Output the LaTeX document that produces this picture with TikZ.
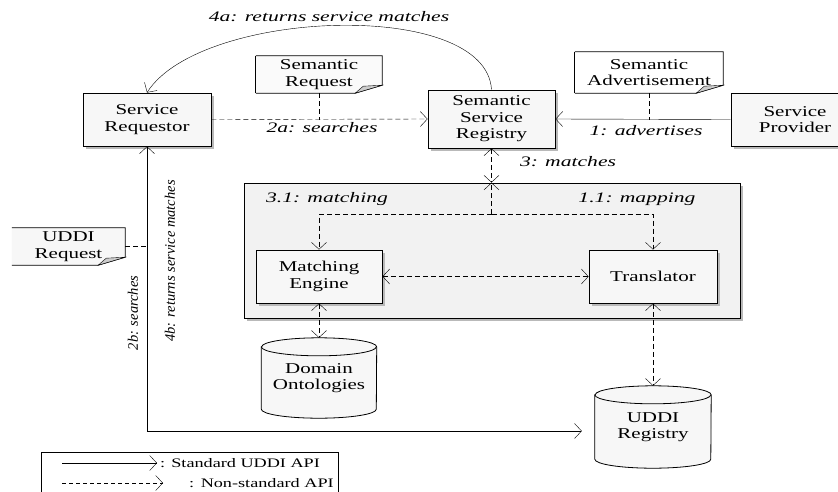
\documentclass[tikz,border=0pt]{standalone}
\usepackage{fontspec}
\setmainfont{Liberation Serif}
\newfontfamily\boxfont[FakeStretch=1.4]{Liberation Serif}
\newfontfamily\labfont[FakeStretch=1.49]{Liberation Serif}
\usetikzlibrary{arrows.meta,shadows,calc,backgrounds}
\pgfdeclarelayer{paper}
\pgfsetlayers{paper,background,main}

% note sheet with a folded bottom-right corner
\newcommand\notefill[2]{\fill[#2] (#1.north west) -- (#1.north east) -- ([yshift=8pt]#1.south east) -- ([xshift=-27pt]#1.south east) -- (#1.south west) -- cycle;}
\newcommand\noteline[1]{\draw[boxline] (#1.south west) -- ([xshift=-27pt]#1.south east) -- ([yshift=8pt]#1.south east) -- (#1.north east) -- (#1.north west);
  \filldraw[fill=gray!40, line width=0.4pt] ([xshift=-27pt]#1.south east) -- ([xshift=-19pt,yshift=7pt]#1.south east) -- ([yshift=8pt]#1.south east) -- cycle;}
\newcommand\noteleft[1]{\draw[boxline] (#1.north west) -- (#1.south west);}
% vertical data store drawn round a named node; #2 = half width
\newcommand\drawcyl[2]{%
  \fill[gray!55, shift={(2.5pt,-2.5pt)}] ($(#1.north west)+(0,9)$) -- ($(#1.south west)+(0,-9)$) arc[start angle=180,end angle=360,x radius=#2pt,y radius=9pt] -- ($(#1.north east)+(0,9)$) arc[start angle=0,end angle=180,x radius=#2pt,y radius=9pt] -- cycle;
  \filldraw[boxline, fill=gray!6] ($(#1.north west)+(0,9)$) -- ($(#1.south west)+(0,-9)$) arc[start angle=180,end angle=360,x radius=#2pt,y radius=9pt] -- ($(#1.north east)+(0,9)$) arc[start angle=0,end angle=180,x radius=#2pt,y radius=9pt] -- cycle;
  \draw[boxline] ($(#1.north west)+(0,9)$) arc[start angle=180,end angle=360,x radius=#2pt,y radius=9pt];}

\begin{document}
\begin{tikzpicture}[x=1pt,y=-1pt,
  >={Straight Barb[length=7pt,width=15pt]},
  line width=0.7pt,
  boxline/.style={line width=0.8pt},
  comp/.style={draw, boxline, fill=gray!6, inner sep=0pt, align=center,
    font=\boxfont\fontsize{15}{16.5}\selectfont,
    general shadow={fill=gray!55, shadow xshift=2.5pt, shadow yshift=-2.5pt}},
  txt/.style={inner sep=0pt, align=center, font=\boxfont\fontsize{15}{16.5}\selectfont},
  lab/.style={inner sep=0pt, font=\labfont\itshape\fontsize{14.5}{16}\selectfont},
  vlab/.style={inner sep=0pt, rotate=90, font=\rmfamily\itshape\fontsize{14.5}{16}\selectfont},
  legtxt/.style={inner sep=0pt, anchor=west, font=\boxfont\fontsize{13}{15}\selectfont},
  nstd/.style={dash pattern=on 5pt off 3pt},
]
\clip (0,0) rectangle (838,491);
\begin{pgfonlayer}{paper}
  \fill[white] (0,0) rectangle (838,491);
\end{pgfonlayer}

% actors and registry
\node[comp, minimum width=128pt, minimum height=53pt] (req) at (147,119.5) {Service\\Requestor};
\node[comp, minimum width=127pt, minimum height=58pt] (reg) at (491.5,119) {Semantic\\Service\\Registry};
\node[comp, minimum width=128pt, minimum height=53pt] (prov) at (795,119.5) {Service\\Provider};

% notes
\node[txt, minimum width=126pt, minimum height=37pt] (semreq) at (319,74.5) {Semantic\\Request};
\node[txt, minimum width=148pt, minimum height=41pt] (semadv) at (649,72.5) {Semantic\\Advertisement};
\node[txt, minimum width=113pt, minimum height=37pt] (udreq) at (68.5,246.5) {UDDI\\Request};
\begin{scope}[on background layer]
  \notefill{semreq}{gray!4}
  \notefill{semadv}{white}
  \notefill{udreq}{gray!6}
\end{scope}
\noteline{semreq}\noteleft{semreq}
\noteline{semadv}\noteleft{semadv}
\noteline{udreq}

% matching component
\node[comp, fill=gray!10, minimum width=496pt, minimum height=135pt] (cont) at (492,250.5) {};
\node[comp, minimum width=126pt, minimum height=53pt] (match) at (319,276.5) {Matching\\Engine};
\node[comp, minimum width=128pt, minimum height=53pt] (trans) at (653,276.5) {Translator};

% data stores
\node[txt, minimum width=115pt, minimum height=80pt] (onto) at (319,378) {Domain\\Ontologies};
\node[txt, minimum width=116pt, minimum height=82pt] (uddireg) at (653,427) {UDDI\\Registry};
\begin{scope}[on background layer]
  \drawcyl{onto}{57.5}
  \drawcyl{uddireg}{58}
\end{scope}

% labels
\node[lab] (l4a) at (329,17) {4a: returns service matches};
\node[lab] (l2a) at (322,128) {2a: searches};
\node[lab] (l1) at (646,131) {1: advertises};
\node[lab] (l3) at (568,162) {3: matches};
\node[lab] (l31) at (327,199) {3.1: matching};
\node[lab] (l11) at (637,199) {1.1: mapping};
\node[vlab] (l2b) at (133,313) {2b: searches};
\node[vlab] (l4b) at (170,261) {4b: returns service matches};

% connectors
\draw[nstd,->] (req.east) -- (reg.west);
\draw[nstd] (semreq.south) -- (semreq.south |- req.east);
\draw[->] (prov.west) -- (reg.east);
\draw[nstd] (semadv.south) -- (semadv.south |- prov.west);
\draw[->] (reg.north) .. controls (486,-2) and (200,9) .. (req.north);
\draw[nstd,<->] (reg.south) -- (reg.south |- cont.north);
\coordinate (j) at (491.5,214);
\draw[nstd,->] (j) -- (j |- cont.north);
\draw[nstd,->] (j) -| (match.north);
\draw[nstd,->] (j) -| (trans.north);
\draw[nstd,<->] (match.east) -- (trans.west);
\draw[nstd,<->] (match.south) -- (onto.north);
\draw[nstd,<->] (trans.south) -- (uddireg.north);
\draw[<->, shorten >=13pt] (req.south) |- ([yshift=-4pt]uddireg.west);
\draw[nstd] (udreq.east) -- (udreq.east -| req.south);

% legend
\node[draw, fill=white, inner sep=0pt, minimum width=297pt, minimum height=60pt] (leg) at (189.5,482) {};
\coordinate (s1) at (62,463);
\coordinate (s2) at (157,463);
\draw[->] (s1) -- (s2);
\node[legtxt] (t1) at (160,463) {: Standard UDDI API};
\coordinate (d1) at (62,483);
\coordinate (d2) at (163,483);
\draw[->, dash pattern=on 4pt off 3pt] (d1) -- (d2);
\node[legtxt] (t2) at (189,483) {:\enspace Non-standard API};
\end{tikzpicture}
\end{document}
